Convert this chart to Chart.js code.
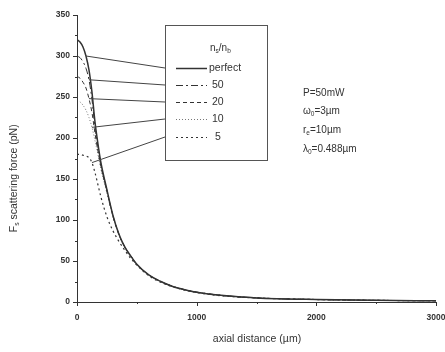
<!DOCTYPE html>
<html><head><meta charset="utf-8">
<script src="https://cdn.jsdelivr.net/npm/chart.js@4"></script>
<style>html,body{margin:0;padding:0;background:#fff}#wrap{width:445px;height:352px}</style>
</head><body><div id="wrap"><canvas id="c" width="445" height="352"></canvas></div>
<script>
const distances = [0,25,50,75,100,125,150,175,200,250,300,350,400,450,500,600,700,800,900,1000,1250,1500,2000,2500,3000];
const perfect = [320,317,311,300,283,256,220,193,170,137,106,83,67,56,46,33,25,19,15,12,7.5,5,3,2,1.5];
const ratio50 = [300,298,293,285,271,247,214,189,167,136,105,83,67,56,46,33,25,19,15,12,7.5,5,3,2,1.5];
const ratio20 = [275,273,268,261,248,231,206,184,165,135,105,82,67,56,46,33,25,19,15,12,7.5,5,3,2,1.5];
const ratio10 = [245,244,240,234,225,213,197,180,162,133,104,82,66,55,45,33,25,19,15,12,7.5,5,3,2,1.5];
const ratio5  = [180,180,179,178,176,170,158,143,128,104,87,74,63,53,45,32,24,18.5,14.5,11.5,7,5,3,2,1.5];
const seriesLabels = ['perfect','50','20','10','5'];
const yTicks = [0,50,100,150,200,250,300,350];
const xTicks = [0,1000,2000,3000];
const paramLines = ['P=50mW','ω|0|=3µm','r|e|=10µm','λ|0|=0.488µm'];
const annotIndex = [3,4,4,5,5];

const ink = '#333';
const dashes = [[],[7,3,2,3],[4,3],[1,2],[2,3]];
const widths = [1.5,1,1,1,1.2];
const allSeries = [perfect,ratio50,ratio20,ratio10,ratio5];

const datasets = allSeries.map((s,i)=>({
  label: seriesLabels[i],
  data: distances.map((d,k)=>({x:d,y:s[k]})),
  borderColor: i===3 ? '#777' : ink,
  borderWidth: widths[i],
  borderDash: dashes[i],
  pointRadius: 0,
  cubicInterpolationMode: 'monotone',
  fill:false
}));

const font = "Arial, 'Liberation Sans', sans-serif";
function subText(ctx, str, x, y, size){
  const parts = str.split('|');
  let cx = x;
  parts.forEach((p,i)=>{
    if(i%2===1){
      ctx.font = (size*0.65)+'px '+font;
      ctx.fillText(p, cx, y+size*0.3);
    } else {
      ctx.font = size+'px '+font;
      ctx.fillText(p, cx, y);
    }
    cx += ctx.measureText(p).width;
  });
  return cx;
}

const deco = {
  id:'deco',
  afterDraw(chart){
    const ctx = chart.ctx, xs = chart.scales.x, ys = chart.scales.y;
    ctx.save();
    ctx.strokeStyle = ink; ctx.fillStyle = ink; ctx.lineWidth = 1;
    const x0 = xs.getPixelForValue(0), y0 = ys.getPixelForValue(0);
    ctx.beginPath();
    ctx.moveTo(Math.round(x0)+0.5, ys.getPixelForValue(350)); ctx.lineTo(Math.round(x0)+0.5, y0+0.5);
    ctx.lineTo(xs.getPixelForValue(3000), y0+0.5);
    ctx.stroke();
    for(let v=0; v<=350; v+=25){
      const py = Math.round(ys.getPixelForValue(v))+0.5;
      const len = v%50===0 ? 4 : 2;
      ctx.beginPath(); ctx.moveTo(x0-len, py); ctx.lineTo(x0, py); ctx.stroke();
    }
    for(let v=0; v<=3000; v+=500){
      const px = Math.round(xs.getPixelForValue(v))+0.5;
      const len = v%1000===0 ? 4 : 2;
      ctx.beginPath(); ctx.moveTo(px, y0); ctx.lineTo(px, y0+len); ctx.stroke();
    }
    ctx.font = 'bold 8.5px '+font; ctx.textAlign='right'; ctx.textBaseline='middle';
    yTicks.forEach(v=>ctx.fillText(String(v), x0-7, ys.getPixelForValue(v)));
    ctx.textAlign='center'; ctx.textBaseline='top';
    xTicks.forEach(v=>ctx.fillText(String(v), xs.getPixelForValue(v), y0+11));
    ctx.textAlign='center'; ctx.textBaseline='middle';
    ctx.font = '10.5px '+font;
    ctx.fillText('axial distance (µm)', 257, 339);
    ctx.save();
    ctx.translate(14, 178); ctx.rotate(-Math.PI/2);
    ctx.textAlign='left';
    ctx.font='10.5px '+font;
    const w = ctx.measureText('F scattering force (pN)').width + 4;
    subText(ctx, 'F|s| scattering force (pN)', -w/2, 0, 10.5);
    ctx.restore();
    const bx=165, by=25, bw=102, bh=135;
    ctx.lineWidth=1; ctx.strokeStyle='#555';
    ctx.strokeRect(bx+0.5, by+0.5, bw, bh);
    ctx.textAlign='left'; ctx.textBaseline='middle';
    subText(ctx, 'n|s|/n|b|', 210, 48, 10);
    const rowY=[68,85,102,119,137];
    datasets.forEach((ds,i)=>{
      ctx.save();
      ctx.strokeStyle = ds.borderColor; ctx.lineWidth = ds.borderWidth; ctx.setLineDash(ds.borderDash);
      ctx.beginPath(); ctx.moveTo(176, rowY[i]+0.5); ctx.lineTo(207, rowY[i]+0.5); ctx.stroke();
      ctx.restore();
      ctx.font='10.5px '+font; ctx.fillStyle=ink;
      ctx.fillText(ds.label, i===0?209:(i===4?215:212), rowY[i]);
      const pt = chart.getDatasetMeta(i).data[annotIndex[i]];
      ctx.strokeStyle='#444'; ctx.lineWidth=1;
      ctx.beginPath(); ctx.moveTo(bx, rowY[i]); ctx.lineTo(pt.x, pt.y); ctx.stroke();
    });
    ctx.fillStyle=ink; ctx.textBaseline='middle'; ctx.textAlign='left';
    const py=[93,111,130,149];
    paramLines.forEach((t,i)=>subText(ctx, t, 303, py[i], 10));
    ctx.restore();
  }
};

new Chart(document.getElementById('c'), {
  type:'line',
  data:{datasets},
  options:{
    responsive:false, animation:false,
    layout:{padding:{left:77,right:9,top:15,bottom:50}},
    plugins:{legend:{display:false},tooltip:{enabled:false}},
    scales:{
      x:{type:'linear',min:0,max:3000,display:false},
      y:{type:'linear',min:0,max:350,display:false}
    }
  },
  plugins:[deco]
});
</script></body></html>
